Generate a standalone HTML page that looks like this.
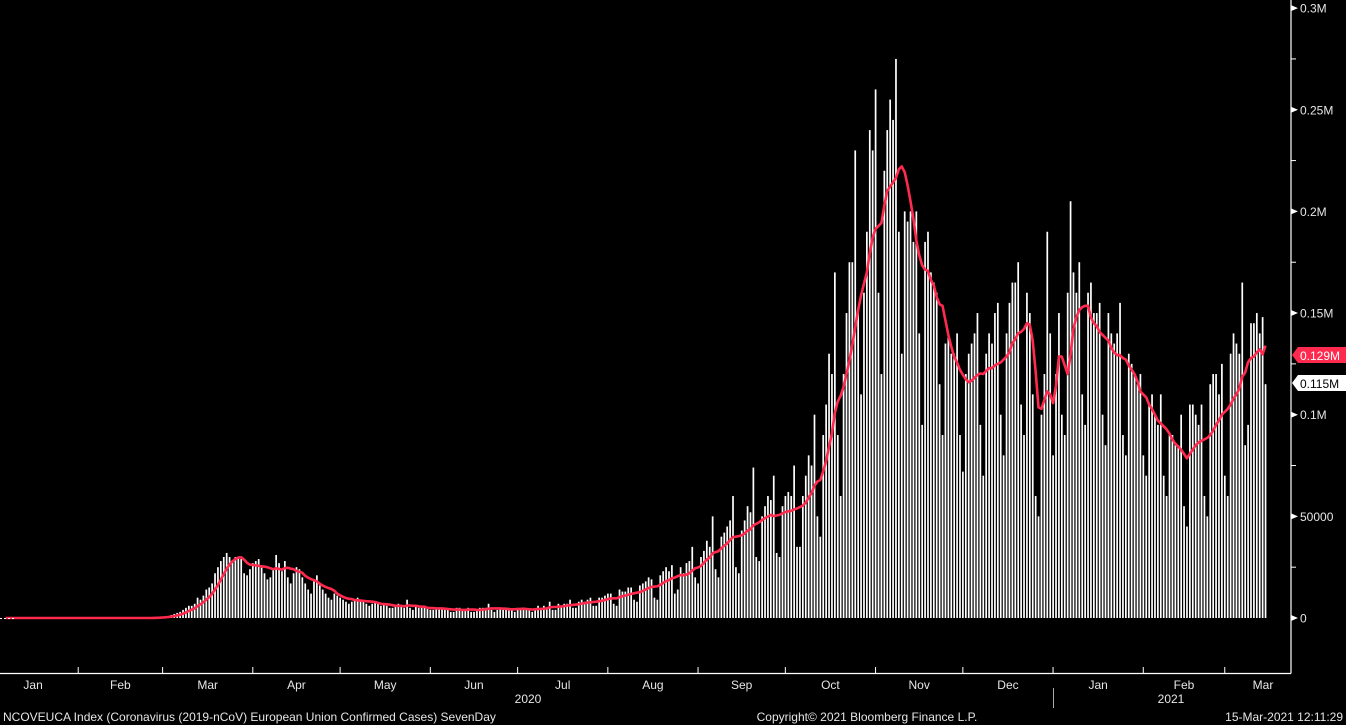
<!DOCTYPE html>
<html><head><meta charset="utf-8"><style>
html,body{margin:0;padding:0;background:#000;width:1346px;height:725px;overflow:hidden}
svg{display:block}
text{font-family:"Liberation Sans",sans-serif;font-size:12px;fill:#e6e6e6}
</style></head><body>
<svg id="chart" width="1346" height="725">
<g id="bars"></g>
<path id="ma" fill="none" stroke="#ff2a4d" stroke-width="2.6" stroke-linejoin="round"></path>
<line x1="0" y1="618.5" x2="14" y2="618.5" stroke="#fff" stroke-dasharray="2,2"/>
<line x1="0" y1="673.5" x2="1291" y2="673.5" stroke="#fff" stroke-width="1.2"/>
<line x1="1291" y1="0" x2="1291" y2="673.5" stroke="#fff" stroke-width="1.2"/>
<g id="yticks"></g>
<g id="xticks"></g>
<text x="528" y="703" text-anchor="middle">2020</text>
<text x="1171" y="703" text-anchor="middle">2021</text>
<line x1="1053.5" y1="688" x2="1053.5" y2="708" stroke="#aaa"/>
<g>
<polygon points="1292,355 1298,347 1346,347 1346,363 1298,363" fill="#ff2a4d"/>
<text x="1300" y="360" style="fill:#fff">0.129M</text>
</g>
<g>
<polygon points="1292,383 1298,375 1346,375 1346,391 1298,391" fill="#fff"/>
<text x="1300" y="388" style="fill:#000">0.115M</text>
</g>
<text x="3" y="721">NCOVEUCA Index (Coronavirus (2019-nCoV) European Union Confirmed Cases) SevenDay</text>
<text x="867" y="721" text-anchor="middle">Copyright© 2021 Bloomberg Finance L.P.</text>
<text x="1343" y="721" text-anchor="end">15-Mar-2021 12:11:29</text>
</svg>
<script>
// daily cases in thousands, starting 1-Jan-2020
const dailyCases=[
0,0,0,0,0,0,0, 0,0,0,0,0,0,0, 0,0,0,0,0,0,0, 0,0,0,0,0,0,0,
0,0,0,0,0,0,0, 0,0,0,0,0,0,0, 0,0,0,0,0,0,0, 0,0,0,0,0,0,0,
0.1,0.2,0.3,0.5,0.6,0.8,1,
1.5,2,2.5,3,4,5,6,
6,7,10,9,11,14,15,
17,22,25,28,30,32,30,
28,30,30,29,22,21,24,
27,28,29,26,22,19,20,
24,31,27,23,28,20,17,
22,25,24,20,17,14,12,
18,21,16,14,12,10,9,
12,11,10,9,8,7,8,
9,10,9,8,7,6,7,
8,7,6,7,6,5,5,
6,7,6,5,9,5,4,
6,5,5,5,5,4,4,
5,5,5,4,4,3,3,
5,5,4,4,5,3,3,
4,5,5,5,7,4,3,
4,5,4,5,5,4,3,
5,5,5,4,4,3,4,
6,5,6,5,8,4,4,
7,6,7,7,9,5,5,
8,9,8,9,10,6,6,
10,10,11,12,12,7,6,
14,13,13,15,15,9,8,
16,17,18,20,19,10,9,
21,23,25,23,26,12,14,
25,22,27,28,35,20,17,
30,33,38,35,50,24,20,
40,42,45,48,60,25,22,
43,48,55,52,74,30,28,
50,55,60,58,70,32,30,
55,60,62,60,75,35,35,
60,70,80,75,100,50,40,
90,105,130,120,170,90,60,
120,150,175,175,230,150,110,
160,190,240,230,260,160,120,
220,240,255,245,275,190,130,
200,195,200,185,200,140,95,
185,190,170,165,160,115,90,
135,140,130,130,140,90,72,
120,130,135,140,150,95,70,
130,140,135,150,155,100,80,
140,155,165,165,175,105,90,
160,150,110,60,50,100,120,
190,140,80,120,150,100,90,
160,205,170,160,175,110,95,
160,165,150,150,155,100,85,
150,140,135,140,155,90,80,
130,125,120,115,120,80,70,
105,110,100,95,110,70,60,
90,90,85,85,100,55,45,
105,105,100,95,105,60,50,
115,120,120,110,125,70,60,
130,140,135,130,165,85,95,
145,145,150,140,148,115];
const yTickValues=[0,50,100,150,200,250,300];
const yTickLabels=["0","50000","0.1M","0.15M","0.2M","0.25M","0.3M"];
const monthLabels=["Jan","Feb","Mar","Apr","May","Jun","Jul","Aug","Sep","Oct","Nov","Dec","Jan","Feb","Mar"];
const monthStartDays=[0,31,60,91,121,152,182,213,244,274,305,335,366,397,425];

const NS="http://www.w3.org/2000/svg";
const X=d=>-12+d*2.91;
const Y=v=>618-v*2.033;
const bars=document.getElementById('bars');
dailyCases.forEach((v,d)=>{
  if(v<=0)return;
  const r=document.createElementNS(NS,'rect');
  
  
  r.setAttribute('x',X(d)-0.8);r.setAttribute('width',1.7);
  r.setAttribute('y',Y(v));r.setAttribute('height',Math.max(0.5,618-Y(v)));
  r.setAttribute('fill','#fff');bars.appendChild(r);
});
let p='';
for(let d=6;d<dailyCases.length;d++){
  let s=0;for(let k=0;k<7;k++)s+=dailyCases[d-k];
  p+=(p?'L':'M')+X(d).toFixed(1)+','+Y(s/7).toFixed(1);
}
document.getElementById('ma').setAttribute('d',p);
const yt=document.getElementById('yticks');
yTickValues.forEach((v,i)=>{
  const y=Y(v);
  const t=document.createElementNS(NS,'polygon');
  
  
  t.setAttribute('points',`1291,${y-3} 1298,${y} 1291,${y+3}`);t.setAttribute('fill','#fff');yt.appendChild(t);
  const tx=document.createElementNS(NS,'text');
  
  
  tx.setAttribute('x',1300);tx.setAttribute('y',y+4.5);tx.textContent=yTickLabels[i];yt.appendChild(tx);
  if(v>0){
    const m=document.createElementNS(NS,'line');
    
    
    const ym=Y(v-25);
    m.setAttribute('x1',1291);m.setAttribute('x2',1296);m.setAttribute('y1',ym);m.setAttribute('y2',ym);m.setAttribute('stroke','#fff');yt.appendChild(m);
  }
});
const xt=document.getElementById('xticks');
monthLabels.forEach((lab,i)=>{
  const s=monthStartDays[i];
  const e=i+1<monthStartDays.length?monthStartDays[i+1]:s+31;
  if(i>0){
    const l=document.createElementNS(NS,'line');
    
    
    l.setAttribute('x1',X(s));l.setAttribute('x2',X(s));l.setAttribute('y1',667);l.setAttribute('y2',673);l.setAttribute('stroke','#fff');xt.appendChild(l);
  }
  const t=document.createElementNS(NS,'text');
  
  
  let cx=X((s+e)/2);if(i===14)cx=1263;
  t.setAttribute('x',cx);t.setAttribute('y',689);t.setAttribute('text-anchor','middle');t.textContent=lab;xt.appendChild(t);
});
</script>
</body></html>
